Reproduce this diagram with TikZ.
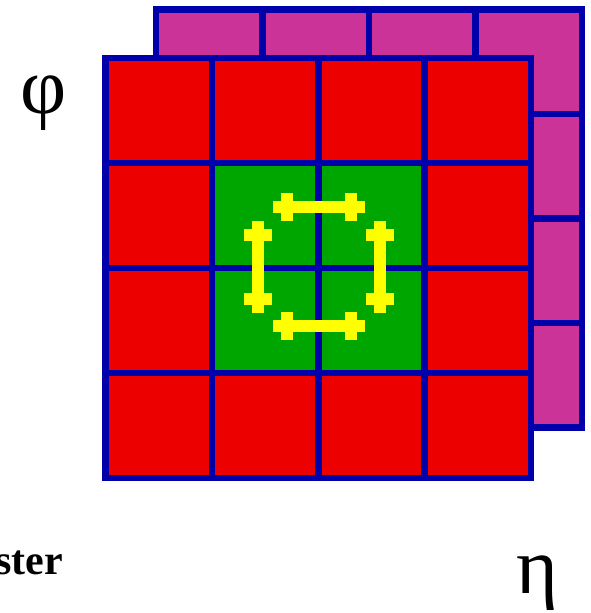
\documentclass[tikz,border=0pt]{standalone}
\usepackage{fontspec}
\setmainfont{Liberation Serif}
\usetikzlibrary{calc}

\definecolor{gridblue}{RGB}{0,0,170}
\definecolor{cellred}{RGB}{237,0,0}
\definecolor{cellgreen}{RGB}{0,166,0}
\definecolor{cellpink}{RGB}{204,51,153}
\definecolor{linkyellow}{RGB}{255,255,0}

\begin{document}
\begin{tikzpicture}[
            x=1pt, y=-1pt,
            cell/.style={rectangle, draw=gridblue, line width=6.5pt, inner sep=0pt},
            backcell/.style={cell, fill=cellpink, minimum width=106.5pt, minimum height=104.5pt},
            frontcell/.style={cell, minimum width=106.4pt, minimum height=105pt},
            link/.style={draw=linkyellow, line width=12.7pt},
            axis/.style={font=\fontsize{80}{96}\selectfont, inner sep=0pt, anchor=base},
            lbl/.style={font=\fontsize{42}{50}\selectfont\bfseries, inner sep=0pt, anchor=base east},
        ]
            \useasboundingbox (0,0) rectangle (591,613);

            % Back layer (shifted up and right)
            \foreach \i in {1,...,4}
                \foreach \j in {1,...,4}
                    \node[backcell] (b-\i-\j) at ({156+(\i-0.5)*106.5}, {9.5+(\j-0.5)*104.5}) {};

            % Front layer, green 2x2 block in the middle
            \foreach \i in {1,...,4}
                \foreach \j in {1,...,4} {
                    \def\fillc{cellred}
                    \ifnum\i>1 \ifnum\i<4 \ifnum\j>1 \ifnum\j<4 \def\fillc{cellgreen}\fi\fi\fi\fi
                    \node[frontcell, fill=\fillc] (f-\i-\j) at ({105.5+(\i-0.5)*106.4}, {58+(\j-0.5)*105}) {};
                }

            % Ring of links round the centre of the green block
            \coordinate (ring) at (319,267);
            \draw[link] ($(ring)+(-46,-60)$) -- ($(ring)+(46,-60)$);
            \draw[link] ($(ring)+(-46,59)$) -- ($(ring)+(46,59)$);
            \draw[link] ($(ring)+(-61,-46)$) -- ($(ring)+(-61,46)$);
            \draw[link] ($(ring)+(61,-46)$) -- ($(ring)+(61,46)$);
            % Cross pieces
            \foreach \dx in {-32,32} {
                \draw[link] ($(ring)+(\dx,-74)$) -- ($(ring)+(\dx,-46)$);
                \draw[link] ($(ring)+(\dx,45)$) -- ($(ring)+(\dx,73)$);
            }
            \foreach \dy in {-32,32} {
                \draw[link] ($(ring)+(-75,\dy)$) -- ($(ring)+(-47,\dy)$);
                \draw[link] ($(ring)+(47,\dy)$) -- ($(ring)+(75,\dy)$);
            }

            % Axis labels
            \node[axis] (phi) at (44,113) {φ};
            \node[axis] (eta) at (537,593) {η};
            \node[lbl] (name) at (63,574) {ster};
        \end{tikzpicture}
\end{document}
